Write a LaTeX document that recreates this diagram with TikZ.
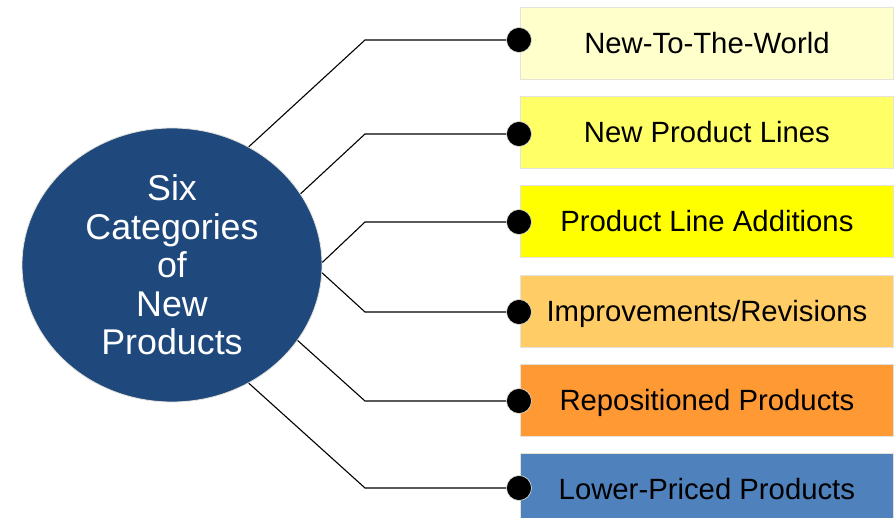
\documentclass[tikz,border=0pt]{standalone}
\usepackage{fontspec}
\setmainfont{Liberation Sans}
\usetikzlibrary{shapes.geometric}
\definecolor{c1}{HTML}{FFFFCC}
\definecolor{c2}{HTML}{FFFF66}
\definecolor{c3}{HTML}{FFFF00}
\definecolor{c4}{HTML}{FFCC66}
\definecolor{c5}{HTML}{FF9933}
\definecolor{c6}{HTML}{4F81BD}
\definecolor{hub}{HTML}{1F497D}
\definecolor{rim}{HTML}{E4E2DA}
\tikzset{
  catbox/.style={draw=rim, line width=0.8pt, minimum width=373pt, minimum height=72pt,
    inner sep=0pt, anchor=north west, text height=20.9pt, text depth=0pt,
    font=\fontsize{29.3}{33}\selectfont},
  pin/.style={circle, fill=black, draw=rim, line width=0.6pt, minimum size=25pt, inner sep=0pt},
  link/.style={draw=black, line width=1.1pt},
}
\begin{document}
\begin{tikzpicture}[x=1pt, y=-1pt]
\useasboundingbox (0,0) rectangle (894,518);
\clip (0,0) rectangle (894,518);
\fill[white] (0,0) rectangle (894,518);
\node[ellipse, fill=hub, draw=rim, line width=0.8pt, minimum width=300pt, minimum height=274pt,
  inner sep=0pt, text=white, align=center, font=\fontsize{35.8}{38.5}\selectfont]
  (c) at (172,265) {Six\\Categories\\of\\New\\Products};
\node[catbox, fill=c1] (b1) at (520,7) {New-To-The-World};
\node[catbox, fill=c2] (b2) at (520,96) {New Product Lines};
\node[catbox, fill=c3] (b3) at (520,185) {Product Line Additions};
\node[catbox, fill=c4] (b4) at (520,275) {Improvements/Revisions};
\node[catbox, fill=c5] (b5) at (520,364) {Repositioned Products};
\node[catbox, fill=c6] (b6) at (520,453) {Lower-Priced Products};
\node[pin] (d1) at (519,40) {};
\node[pin] (d2) at (519,134) {};
\node[pin] (d3) at (519,222) {};
\node[pin] (d4) at (519,312) {};
\node[pin] (d5) at (519,401) {};
\node[pin] (d6) at (519,488) {};
\coordinate (ex) at (365,0);
\draw[link] (c.57) -- (ex |- d1) -- (d1);
\draw[link] (c.29) -- (ex |- d2) -- (d2);
\draw[link] (c.1.5) -- (ex |- d3) -- (d3);
\draw[link] (c.-3) -- (ex |- d4) -- (d4);
\draw[link] (c.-31) -- (ex |- d5) -- (d5);
\draw[link] (c.-57) -- (ex |- d6) -- (d6);
\end{tikzpicture}
\end{document}
